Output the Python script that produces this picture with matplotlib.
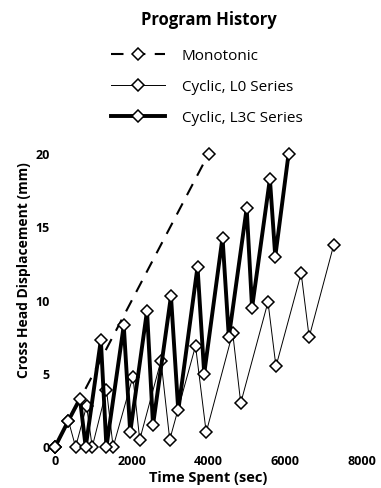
import matplotlib
matplotlib.use("Agg")
import matplotlib.pyplot as plt

plt.rcParams['font.family'] = ['Open Sans', 'DejaVu Sans']

# monotonic test
mono_t = [0, 4000]
mono_d = [0, 20.0]

# cyclic, L0 series
l0_t = [0, 350, 537, 823, 970, 1342, 1515, 2030, 2208, 2762, 2990, 3662, 3940,
        4630, 4840, 5550, 5758, 6415, 6623, 7264]
l0_d = [0, 1.8, 0, 2.8, 0, 3.9, 0, 4.8, 0.5, 5.9, 0.5, 6.9, 1.0,
        7.8, 3.0, 9.9, 5.5, 11.85, 7.5, 13.8]

# cyclic, L3C series
l3c_t = [0, 350, 650, 800, 1195, 1340, 1792, 1960, 2398, 2554, 3022, 3212,
         3714, 3888, 4365, 4530, 4995, 5135, 5600, 5740, 6086]
l3c_d = [0, 1.8, 3.3, 0, 7.3, 0, 8.3, 1.0, 9.3, 1.5, 10.3, 2.5,
         12.3, 5.0, 14.3, 7.5, 16.3, 9.5, 18.3, 13.0, 20.0]

xticks = [0, 2000, 4000, 6000, 8000]
yticks = [0, 5, 10, 15, 20]

W, H = 381, 488
fig = plt.figure(figsize=(W / 100, H / 100), dpi=100)
ax = fig.add_axes([55 / W, 1 - 447 / H, 307 / W, 293 / H])

mk = dict(marker='D', markersize=6.5, markerfacecolor='white',
          markeredgecolor='black', markeredgewidth=1.1, clip_on=False)

ax.plot(mono_t, mono_d, color='black', lw=1.5, dashes=(6, 4.5),
        label='Monotonic', **mk)
ax.plot(l0_t, l0_d, color='black', lw=0.7, label='Cyclic, L0 Series', **mk)
ax.plot(l3c_t, l3c_d, color='black', lw=2.8, label='Cyclic, L3C Series', **mk)

ax.set_xlim(0, 8000)
ax.set_ylim(0, 20)
ax.set_xticks(xticks)
ax.set_yticks(yticks)
for s in ax.spines.values():
    s.set_visible(False)
ax.tick_params(axis='both', length=0, labelsize=9)
ax.tick_params(axis='x', pad=6)
ax.tick_params(axis='y', pad=4)
for lab in ax.get_xticklabels() + ax.get_yticklabels():
    lab.set_fontweight('bold')

ax.set_xlabel('Time Spent (sec)', fontsize=10.5, fontweight='bold')
ax.set_ylabel('Cross Head Displacement (mm)', fontsize=10, fontweight='bold')
ax.xaxis.set_label_coords(0.5, -0.082)
ax.yaxis.set_label_coords(-0.078, 0.604)

fig.text(209 / W, 1 - 20 / H, 'Program History', ha='center', va='center',
         fontsize=12, fontweight='bold')
leg = fig.legend(loc='upper center', bbox_to_anchor=(207 / W, 1 - 41 / H),
                 frameon=False, fontsize=11,
                 handlelength=3.5, handletextpad=1.1, labelspacing=1.05,
                 borderpad=0)

fig.savefig('out.png', dpi=100)
